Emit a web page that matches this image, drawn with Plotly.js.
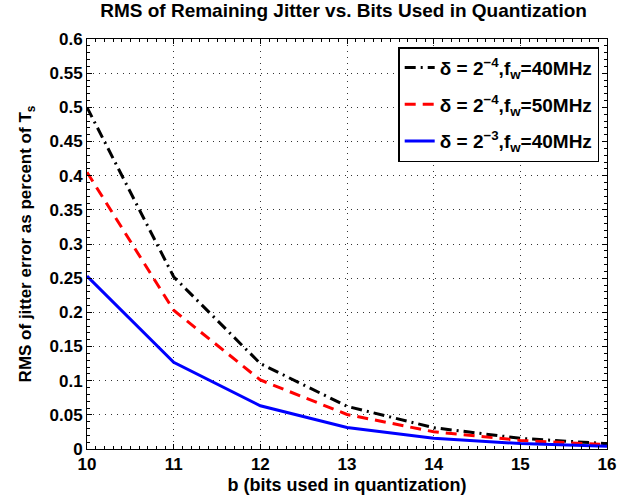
<!DOCTYPE html>
<html><head><meta charset="utf-8">
<script src="https://cdn.plot.ly/plotly-3.0.1.min.js"></script>
<style>body{margin:0;padding:0;background:#fff}#c{width:619px;height:499px}</style>
</head><body><div id="c"></div>
<script>
const bits = [10, 11, 12, 13, 14, 15, 16];
const d4_40 = [0.5, 0.252, 0.125, 0.0625, 0.0312, 0.0156, 0.0078];
const d4_50 = [0.405, 0.203, 0.101, 0.0505, 0.0252, 0.0126, 0.0063];
const d3_40 = [0.253, 0.127, 0.0633, 0.0316, 0.0158, 0.0079, 0.004];
const yTicks = [0,0.05,0.1,0.15,0.2,0.25,0.3,0.35,0.4,0.45,0.5,0.55,0.6];
const yTickText = ['0','0.05','0.1','0.15','0.2','0.25','0.3','0.35','0.4','0.45','0.5','0.55','0.6'];
const names = [
  'δ = 2<sup>−4</sup>,f<sub>w</sub>=40MHz',
  'δ = 2<sup>−4</sup>,f<sub>w</sub>=50MHz',
  'δ = 2<sup>−3</sup>,f<sub>w</sub>=40MHz'
];
const F = 'Liberation Sans, Arial, sans-serif';
const traces = [
  {x: bits, y: d4_40, name: names[0], legendgroup: 'a', mode: 'lines', line: {color: '#000', width: 3, dash: '11px,5px,2px,5px'}},
  {x: bits, y: d4_50, name: names[1], legendgroup: 'b', mode: 'lines', line: {color: '#ff0000', width: 3, dash: '11px,7px'}},
  {x: bits, y: d3_40, name: names[2], legendgroup: 'c', mode: 'lines', line: {color: '#0000ff', width: 3}}
];
const axBase = {
  showline: true, linecolor: '#000', linewidth: 1, mirror: 'ticks',
  ticks: 'inside', ticklen: 5, tickcolor: '#000',
  showgrid: true, gridcolor: '#333', griddash: '1px,5px', gridwidth: 1,
  zeroline: false,
  tickfont: {family: F, size: 17, color: '#000', weight: 'bold'}
};
const layout = {
  width: 619, height: 499,
  margin: {l: 87, r: 12, t: 39, b: 50},
  paper_bgcolor: '#fff', plot_bgcolor: '#fff',
  title: {text: '<b>RMS of Remaining Jitter vs. Bits Used in Quantization</b>', font: {family: F, size: 19, color: '#000'}, x: 0.555, xanchor: 'center', y: 0.993, yanchor: 'top'},
  xaxis: Object.assign({}, axBase, {
    range: [10, 16], tickvals: bits, ticktext: bits.map(String),
    title: {text: '<b>b (bits used in quantization)</b>', font: {family: F, size: 18, color: '#000'}, standoff: 4},
    minor: {ticks: 'inside', ticklen: 3, tickcolor: '#000', dtick: 0.1, showgrid: false}
  }),
  yaxis: Object.assign({}, axBase, {
    range: [0, 0.6], tickvals: yTicks, ticktext: yTickText,
    title: {text: '<b>RMS of jitter error as percent of T<sub>s</sub></b>', font: {family: F, size: 17, color: '#000'}, standoff: 13},
    minor: {ticks: 'inside', ticklen: 3, tickcolor: '#000', dtick: 0.01, showgrid: false}
  }),
  legend: {
    x: 0.985, xanchor: 'right', y: 0.98, yanchor: 'top',
    bgcolor: '#fff', bordercolor: '#000', borderwidth: 1.5,
    font: {family: F, size: 19, color: '#000', weight: 'bold'},
    traceorder: 'grouped', tracegroupgap: 9
  },
  showlegend: true
};
Plotly.newPlot('c', traces, layout, {displayModeBar: false, staticPlot: true});
</script></body></html>
